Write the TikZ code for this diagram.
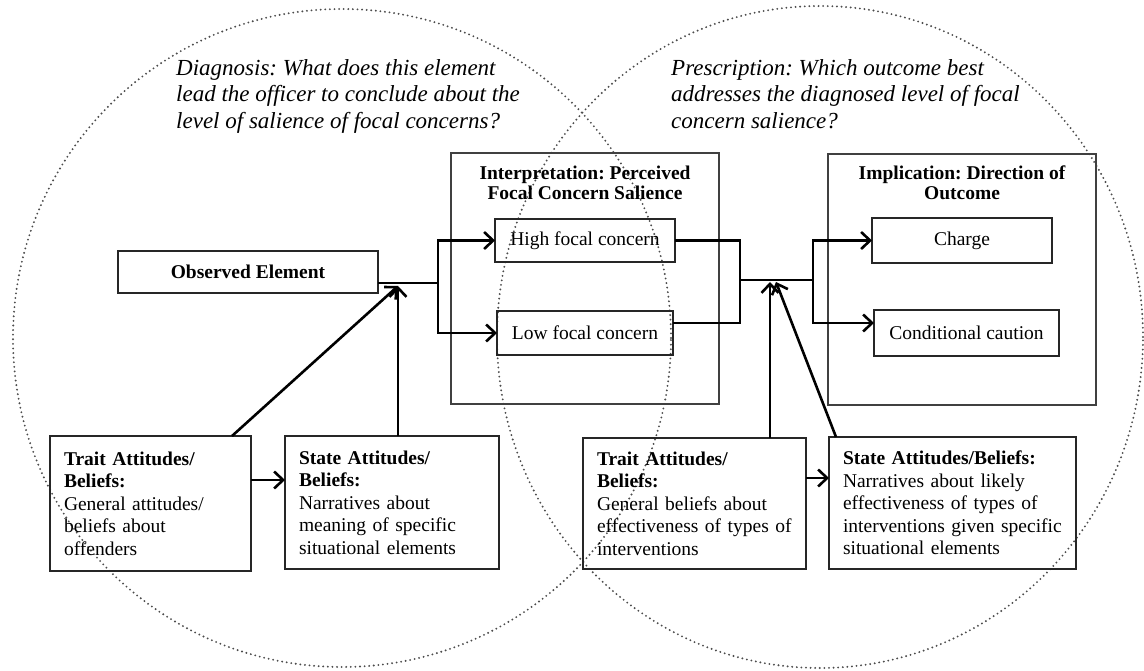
\documentclass[tikz,border=0pt]{standalone}
\usepackage{fontspec}
\setmainfont{Liberation Serif}
\usetikzlibrary{arrows.meta}
\frenchspacing
\begin{document}
\begin{tikzpicture}[x=1pt,y=-1pt,
  box/.style={draw=black!85, line width=1.8pt, inner sep=0pt, outer sep=0pt, font=\fontsize{19.5}{22.5}\selectfont},
  bbox/.style={box, font=\fontsize{19.5}{22.5}\selectfont\bfseries},
  wbox/.style={box, align=left, inner xsep=14pt},
  frame/.style={draw=black!75, line width=1.6pt, inner sep=0pt, outer sep=0pt},
  conn/.style={line width=2.6pt, draw=black},
  arr/.style={conn, -{Straight Barb[length=9pt,width=17pt]}},
  ring/.style={draw=black!70, line width=2.1pt, line cap=round, dash pattern=on 0pt off 4.6pt},
  quest/.style={font=\fontsize{23}{26.5}\selectfont\itshape, align=left, anchor=north west, inner sep=0pt},
  ttl/.style={font=\fontsize{19.5}{20}\selectfont\bfseries, align=center, inner sep=0pt}]
\useasboundingbox (0,0) rectangle (1144,671);

% dotted circles
\draw[ring] (342,338) circle[radius=329pt];
\draw[ring] (820,337) ellipse[x radius=323pt, y radius=331pt];

% questions
\node[quest] (diag) at (176,59) {Diagnosis: What does this element\\lead the officer to conclude about the\\level of salience of focal concerns?};
\node[quest] (presc) at (671,59) {Prescription: Which outcome best\\addresses the diagnosed level of focal\\concern salience?};

% frames
\node[frame, minimum width=268pt, minimum height=251pt] (interp) at (585,278.5) {};
\node[ttl] (interpT) at (585,183) {Interpretation: Perceived\\Focal Concern Salience};
\node[frame, minimum width=268pt, minimum height=251pt] (impl) at (962,279.5) {};
\node[ttl] (implT) at (962,183) {Implication: Direction of\\Outcome};

% boxes
\node[bbox, minimum width=260pt, minimum height=42pt] (obs) at (248,272) {Observed Element};
\node[box, minimum width=180pt, minimum height=43pt] (high) at (585,240.5) {High focal concern};
\node[box, minimum width=176pt, minimum height=44pt] (low) at (585,333) {Low focal concern};
\node[box, minimum width=180pt, minimum height=45pt] (charge) at (962,240.5) {Charge};
\node[box, minimum width=185pt, minimum height=46pt] (cond) at (966.5,333) {Conditional caution};

\node[wbox, text width=173pt, minimum height=135pt] (traitL) at (150.5,503.5)
  {\textbf{Trait Attitudes/}\\\textbf{Beliefs:}\\General attitudes/\\beliefs about\\offenders};
\node[wbox, text width=186pt, minimum height=133pt] (stateL) at (392,502.5)
  {\textbf{State Attitudes/}\\\textbf{Beliefs:}\\Narratives about\\meaning of specific\\situational elements};
\node[wbox, text width=195pt, minimum height=131pt] (traitR) at (694.5,503.5)
  {\textbf{Trait Attitudes/}\\\textbf{Beliefs:}\\General beliefs about\\effectiveness of types of\\interventions};
\node[wbox, text width=219pt, minimum height=132pt] (stateR) at (952.5,503)
  {\textbf{State Attitudes/Beliefs:}\\Narratives about likely\\effectiveness of types of\\interventions given specific\\situational elements};

% junction points
\coordinate (j1) at (438,283);
\coordinate (a1) at (398,286);
\coordinate (j2) at (740,280);
\coordinate (j3) at (813,280);
\coordinate (a2) at (770,282);
\coordinate (a3) at (776,282);

% left connectors
\draw[conn] (obs.east |- j1) -- (j1);
\draw[arr] (j1) |- (high.west);
\draw[arr] (j1) |- (low.west);
\draw[arr] ([xshift=81.5pt]traitL.north) -- (a1);
\draw[arr] ([xshift=6pt]stateL.north) -- (a1);
\draw[arr] ([yshift=23.5pt]traitL.east) -- ([yshift=22.5pt]stateL.west);

% right connectors
\draw[conn] (high.east) -| (j2);
\draw[conn] ([yshift=10pt]low.east) -| (j2);
\draw[conn] (j2) -- (j3);
\draw[arr] (j3) |- (charge.west);
\draw[arr] (j3) |- ([yshift=10pt]cond.west);
\draw[arr] ([xshift=75.5pt]traitR.north) -- (a2);
\draw[arr] ([xshift=-116.5pt]stateR.north) -- (a3);
\draw[arr] ([yshift=25.5pt]traitR.east) -- ([yshift=25pt]stateR.west);
\end{tikzpicture}
\end{document}
